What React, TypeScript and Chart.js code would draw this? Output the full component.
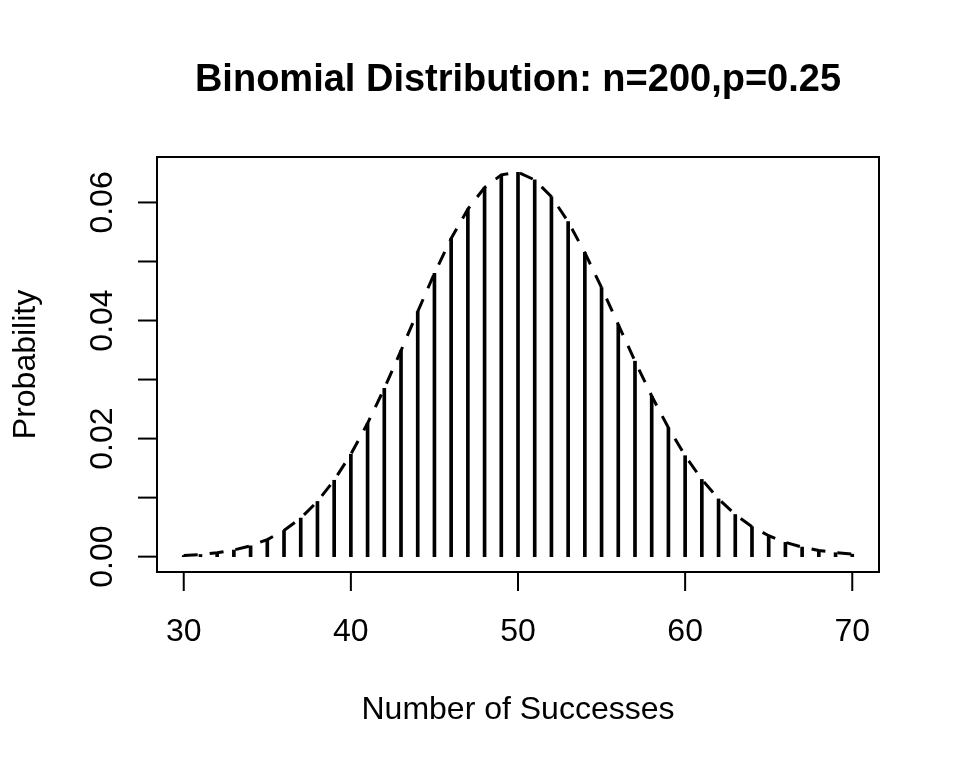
import { useEffect, useRef } from "react";
import { Chart, registerables } from "chart.js";

Chart.register(...registerables);

const chartTitle = "Binomial Distribution: n=200,p=0.25";
const xAxisTitle = "Number of Successes";
const yAxisTitle = "Probability";

const successes = [
  30, 31, 32, 33, 34, 35, 36, 37, 38, 39, 40, 41, 42, 43, 44, 45, 46, 47, 48, 49, 50,
  51, 52, 53, 54, 55, 56, 57, 58, 59, 60, 61, 62, 63, 64, 65, 66, 67, 68, 69, 70,
];

const probabilities = [
  0.0002, 0.00037, 0.00066, 0.00112, 0.00183, 0.0029, 0.00442, 0.00654, 0.00935, 0.01294,
  0.01736, 0.02259, 0.0285, 0.03491, 0.04152, 0.04798, 0.05389, 0.05886, 0.06254, 0.06467,
  0.0651, 0.06382, 0.06096, 0.05674, 0.05149, 0.04556, 0.03932, 0.03311, 0.02721, 0.02183,
  0.0171, 0.01308, 0.00978, 0.00714, 0.00509, 0.00355, 0.00242, 0.00162, 0.00105, 0.00067,
  0.00042,
];

const xTicks = [30, 40, 50, 60, 70];
const xTickLabels = ["30", "40", "50", "60", "70"];
const yTicks = [0, 0.01, 0.02, 0.03, 0.04, 0.05, 0.06];
const yTickLabels = ["0.00", "", "0.02", "", "0.04", "", "0.06"];

const FONT = "'Liberation Sans', Arial, sans-serif";

export default function App() {
  const canvasRef = useRef<HTMLCanvasElement | null>(null);

  useEffect(() => {
    const canvas = canvasRef.current;
    if (!canvas) return;

    const points = successes.map((x, i) => ({ x, y: probabilities[i] }));

    const rBasePlot = {
      id: "rBasePlot",
      afterDraw(chart: any) {
        const ctx = chart.ctx as CanvasRenderingContext2D;
        const area = chart.chartArea;
        const xs = chart.scales.x;
        const ys = chart.scales.y;
        ctx.save();
        ctx.strokeStyle = "#000";
        ctx.fillStyle = "#000";
        ctx.lineWidth = 2;
        ctx.setLineDash([]);
        // box
        ctx.strokeRect(area.left, area.top, area.right - area.left, area.bottom - area.top);
        // x ticks
        ctx.font = `32px ${FONT}`;
        ctx.textAlign = "center";
        ctx.textBaseline = "alphabetic";
        xTicks.forEach((v, i) => {
          const px = xs.getPixelForValue(v);
          ctx.beginPath();
          ctx.moveTo(px, area.bottom);
          ctx.lineTo(px, area.bottom + 19);
          ctx.stroke();
          ctx.fillText(xTickLabels[i], px, 641);
        });
        // y ticks
        yTicks.forEach((v, i) => {
          const py = ys.getPixelForValue(v);
          ctx.beginPath();
          ctx.moveTo(area.left - 19, py);
          ctx.lineTo(area.left, py);
          ctx.stroke();
          if (yTickLabels[i]) {
            ctx.save();
            ctx.translate(112, py);
            ctx.rotate(-Math.PI / 2);
            ctx.fillText(yTickLabels[i], 0, 0);
            ctx.restore();
          }
        });
        const cx = (area.left + area.right) / 2;
        const cy = (area.top + area.bottom) / 2;
        // axis titles
        ctx.fillText(xAxisTitle, cx, 719);
        ctx.save();
        ctx.translate(35, cy);
        ctx.rotate(-Math.PI / 2);
        ctx.fillText(yAxisTitle, 0, 0);
        ctx.restore();
        // main title
        ctx.font = `bold 38px ${FONT}`;
        ctx.fillText(chartTitle, cx, 91);
        ctx.restore();
      },
    };

    const chart = new Chart(canvas, {
      type: "bar",
      data: {
        datasets: [
          {
            type: "line",
            data: points,
            borderColor: "#000",
            borderWidth: 3,
            borderDash: [14, 12],
            borderCapStyle: "butt",
            pointRadius: 0,
            tension: 0,
            fill: false,
            order: 0,
          } as any,
          {
            type: "bar",
            data: points,
            backgroundColor: "#000",
            borderWidth: 0,
            barThickness: 3,
            order: 1,
          } as any,
        ],
      },
      options: {
        responsive: false,
        animation: false,
        layout: { padding: { left: 157, top: 157, right: 81, bottom: 196 } },
        plugins: {
          legend: { display: false },
          tooltip: { enabled: false },
          title: { display: false },
        },
        scales: {
          x: { type: "linear", min: 28.4, max: 71.6, offset: false, display: false },
          y: { type: "linear", min: -0.0026, max: 0.0677, display: false },
        },
      },
      plugins: [rBasePlot],
    });

    return () => chart.destroy();
  }, []);

  return (
    <div style={{ position: "fixed", left: 0, top: 0, width: 960, height: 768, background: "#fff" }}>
      <canvas ref={canvasRef} width={960} height={768} style={{ width: 960, height: 768 }} />
    </div>
  );
}
